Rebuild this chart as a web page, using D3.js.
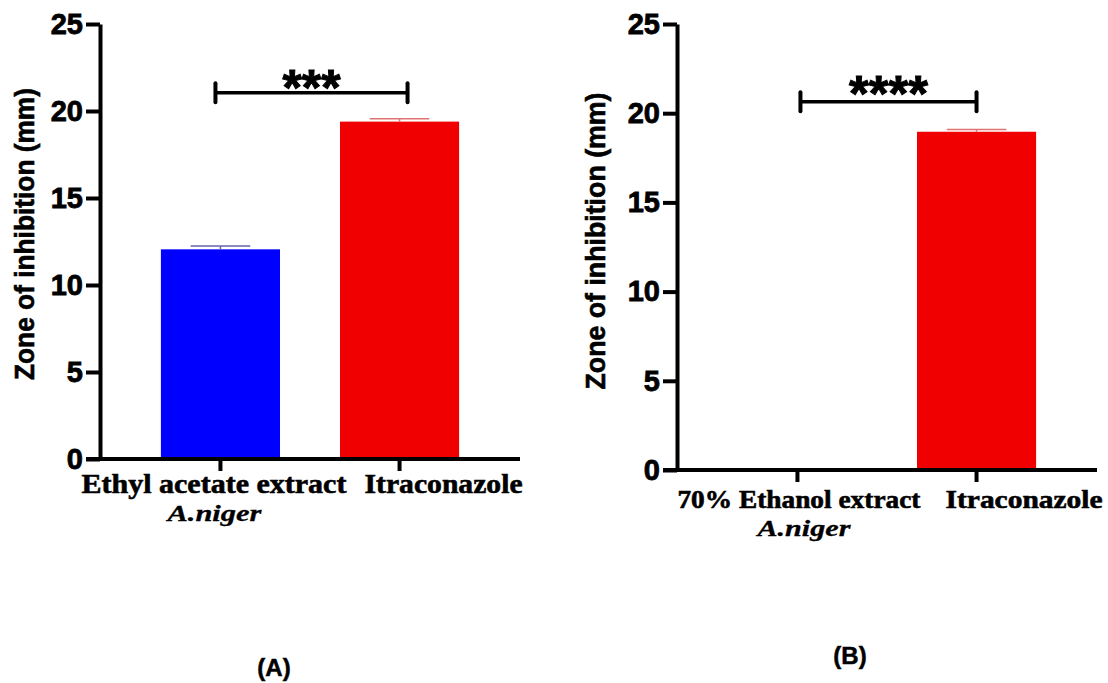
<!DOCTYPE html>
<html>
<head>
<meta charset="utf-8">
<script src="https://cdn.jsdelivr.net/npm/d3@7/dist/d3.min.js"></script>
<style>
  html, body { margin: 0; padding: 0; background: #fff; }
  svg { display: block; }
</style>
</head>
<body>
<svg id="chart" width="1108" height="683"></svg>
<script>
// ---------- DATA ----------
const yTicks = [0, 5, 10, 15, 20, 25];
const yTitle = "Zone of inhibition (mm)";

const categoriesA = ["Ethyl acetate extract", "Itraconazole"];
const subLabelsA = ["A.niger", ""];
const valuesA = [12.05, 19.39];
const errorsA = [0.19, 0.16];
const colorsA = ["#0000ff", "#f00000"];
const sigA = "***";

const categoriesB = ["70% Ethanol extract", "Itraconazole"];
const subLabelsB = ["A.niger", ""];
const valuesB = [0, 18.96];
const errorsB = [0, 0.13];
const colorsB = ["#0000ff", "#f00000"];
const sigB = "****";

const panelLabels = ["(A)", "(B)"];

// ---------- LAYOUT ----------
const panels = [
  { cats: categoriesA, subs: subLabelsA, vals: valuesA, errs: errorsA, cols: colorsA, sig: sigA,
    label: panelLabels[0],
    axisX: 100, y0: 459, yTop: 24, width: 420,
    titleX: 34, titleY: 234, titleLen: 292,
    catFont: 28, catBase: 493, catOff: [-6.5, 44], catLen: [265, 158],
    subFont: 23, subBase: 521, subOff: [-6], subLen: 94,
    brY: 92.7, brL: -5, brR: 8, starLen: 58, starY: 74,
    panelX: 274, panelY: 676 },
  { cats: categoriesB, subs: subLabelsB, vals: valuesB, errs: errorsB, cols: colorsB, sig: sigB,
    label: panelLabels[1],
    axisX: 677, y0: 470, yTop: 24, width: 420,
    titleX: 605, titleY: 241, titleLen: 297,
    catFont: 26, catBase: 508, catOff: [1.5, 47.5], catLen: [243, 157],
    subFont: 23, subBase: 536, subOff: [6.5], subLen: 93,
    brY: 101.7, brL: 3, brR: 0, starLen: 79, starY: 79.5,
    panelX: 850, panelY: 664 }
];

const svg = d3.select("#chart");
const sans = "'Liberation Sans', Arial, sans-serif";
const serif = "'Liberation Serif', 'Times New Roman', serif";
const errColor = { "#0000ff": "#6464a8", "#f00000": "#e07272" };
const AXW = 4;

panels.forEach(p => {
  const g = svg.append("g");
  const x = d3.scaleBand()
    .domain(p.cats)
    .range([p.axisX, p.axisX + p.width])
    .paddingInner(0.335)
    .paddingOuter(0.34);
  const y = d3.scaleLinear().domain([0, 25]).range([p.y0, p.yTop]);

  // bars
  g.selectAll("rect.bar").data(p.cats).enter().append("rect")
    .attr("class", "bar")
    .attr("x", d => x(d))
    .attr("width", x.bandwidth())
    .attr("y", (d, i) => y(p.vals[i]))
    .attr("height", (d, i) => y(0) - y(p.vals[i]))
    .attr("fill", (d, i) => p.cols[i]);

  // error bars (upper only, GraphPad style)
  p.cats.forEach((c, i) => {
    if (p.vals[i] <= 0) return;
    const cx = x(c) + x.bandwidth() / 2;
    const col = errColor[p.cols[i]];
    g.append("line").attr("x1", cx).attr("x2", cx)
      .attr("y1", y(p.vals[i])).attr("y2", y(p.vals[i] + p.errs[i]))
      .attr("stroke", col).attr("stroke-width", 1.5);
    g.append("line").attr("x1", cx - x.bandwidth() / 4).attr("x2", cx + x.bandwidth() / 4)
      .attr("y1", y(p.vals[i] + p.errs[i])).attr("y2", y(p.vals[i] + p.errs[i]))
      .attr("stroke", col).attr("stroke-width", 1.5);
  });

  // y axis
  const yAxis = d3.axisLeft(y).tickValues(yTicks).tickSize(14).tickSizeOuter(0).tickPadding(3);
  const ya = g.append("g").attr("transform", `translate(${p.axisX},0)`).call(yAxis);
  ya.select(".domain").attr("stroke", "#000").attr("stroke-width", AXW);
  ya.selectAll(".tick line").attr("stroke", "#000").attr("stroke-width", AXW);
  ya.selectAll(".tick text")
    .attr("font-family", sans).attr("font-weight", "bold").attr("font-size", 29)
    .attr("stroke", "#000").attr("stroke-width", 0.8)
    .attr("fill", "#000");

  // x axis
  const xAxis = d3.axisBottom(x).tickSize(12).tickSizeOuter(0).tickFormat("");
  const xa = g.append("g").attr("transform", `translate(0,${p.y0})`).call(xAxis);
  xa.select(".domain").remove();
  xa.selectAll(".tick line").attr("stroke", "#000").attr("stroke-width", AXW);
  g.append("line")
    .attr("x1", p.axisX - 14).attr("x2", p.axisX + p.width)
    .attr("y1", p.y0).attr("y2", p.y0)
    .attr("stroke", "#000").attr("stroke-width", AXW);

  // category labels
  p.cats.forEach((c, i) => {
    const cx = x(c) + x.bandwidth() / 2 + p.catOff[i];
    g.append("text").text(c)
      .attr("x", cx).attr("y", p.catBase)
      .attr("text-anchor", "middle")
      .attr("font-family", serif).attr("font-weight", "bold").attr("font-size", p.catFont)
      .attr("textLength", p.catLen[i]).attr("lengthAdjust", "spacingAndGlyphs")
      .attr("stroke", "#000").attr("stroke-width", 0.6)
      .attr("fill", "#000");
    if (p.subs[i]) {
      g.append("text").text(p.subs[i])
        .attr("x", x(c) + x.bandwidth() / 2 + p.subOff[i]).attr("y", p.subBase)
        .attr("text-anchor", "middle")
        .attr("font-family", serif).attr("font-weight", "bold").attr("font-style", "italic")
        .attr("font-size", p.subFont)
        .attr("textLength", p.subLen).attr("lengthAdjust", "spacingAndGlyphs")
        .attr("stroke", "#000").attr("stroke-width", 0.3)
        .attr("fill", "#000");
    }
  });

  // y title
  g.append("text").text(yTitle)
    .attr("transform", `translate(${p.titleX},${p.titleY}) rotate(-90)`)
    .attr("text-anchor", "middle")
    .attr("font-family", sans).attr("font-weight", "bold").attr("font-size", 27)
    .attr("textLength", p.titleLen).attr("lengthAdjust", "spacingAndGlyphs")
    .attr("stroke", "#000").attr("stroke-width", 0.6)
    .attr("fill", "#000");

  // significance bracket
  const xl = x(p.cats[0]) + x.bandwidth() / 2 + p.brL;
  const xr = x(p.cats[1]) + x.bandwidth() / 2 + p.brR;
  g.append("line").attr("x1", xl).attr("x2", xr).attr("y1", p.brY).attr("y2", p.brY)
    .attr("stroke", "#000").attr("stroke-width", 3.5);
  [xl, xr].forEach(xx => {
    g.append("line").attr("x1", xx).attr("x2", xx).attr("y1", p.brY - 9.5).attr("y2", p.brY + 9.5)
      .attr("stroke", "#000").attr("stroke-width", 4).attr("stroke-linecap", "round");
  });
  g.append("text").text(p.sig)
    .attr("x", (xl + xr) / 2).attr("y", p.starY)
    .attr("dy", "0.62em")
    .attr("text-anchor", "middle")
    .attr("font-family", sans).attr("font-weight", "bold").attr("font-size", 50)
    .attr("textLength", p.starLen).attr("lengthAdjust", "spacingAndGlyphs")
    .attr("stroke", "#000").attr("stroke-width", 1)
    .attr("fill", "#000");

  // panel label
  g.append("text").text(p.label)
    .attr("x", p.panelX).attr("y", p.panelY)
    .attr("text-anchor", "middle")
    .attr("font-family", sans).attr("font-weight", "bold").attr("font-size", 24)
    .attr("stroke", "#000").attr("stroke-width", 0.5)
    .attr("fill", "#000");
});
</script>
</body>
</html>
